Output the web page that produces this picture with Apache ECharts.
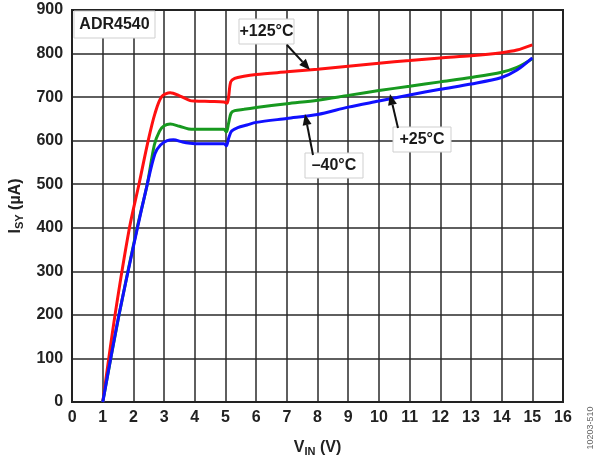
<!DOCTYPE html>
<html><head><meta charset="utf-8">
<script src="https://cdn.jsdelivr.net/npm/echarts@6/dist/echarts.min.js"></script>
<style>html,body{margin:0;padding:0;background:#fff}#c{width:600px;height:463px}</style>
</head><body><div id="c"></div>
<script>
const xTicks = [0,1,2,3,4,5,6,7,8,9,10,11,12,13,14,15,16];
const yTicks = [0,100,200,300,400,500,600,700,800,900];
const seriesNames = ['+125°C','+25°C','–40°C'];
const hot = [[1,0],[1.4,200],[1.87,400],[2.18,500],[2.48,600],[2.7,662],[2.92,701],[3.2,710],[3.5,703],[3.85,692],[4,691],[4.5,690],[4.95,689],[5.05,686],[5.1,700],[5.17,735],[5.3,743],[5.6,748],[6,752],[7,758],[8,764],[9,771],[10,778],[11,784],[12,790],[13,795],[14,802],[14.5,808],[15,820]];
const room = [[1,0],[1.53,200],[2.12,400],[2.45,500],[2.68,590],[2.85,622],[3.0,634],[3.2,638],[3.5,633],[3.8,627],[4,626],[4.5,626],[4.95,626],[5.03,620],[5.1,640],[5.18,663],[5.3,669],[5.6,672],[6,676],[7,685],[8,693],[9,704],[10,715],[11,725],[12,735],[13,745],[14,757],[14.5,768],[15,788]];
const cold = [[1,0],[1.5,190],[2.1,390],[2.45,500],[2.7,570],[2.88,590],[3.1,600],[3.3,602],[3.6,597],[3.85,594],[4,593],[4.5,593],[4.95,593],[5.03,588],[5.1,605],[5.2,622],[5.4,630],[5.7,636],[6,642],[7,651],[8,660],[9,677],[10,691],[11,705],[12,718],[13,730],[14,745],[14.5,762],[15,790]];

const FONT = 'Liberation Sans, Arial, sans-serif';
const chart = echarts.init(document.getElementById('c'), null, {renderer:'canvas'});
function boxText(x, y, w, h, txt){
  return [
    {type:'rect', shape:{x:x,y:y,width:w,height:h}, style:{fill:'#fff', stroke:'#cfcfcf', lineWidth:1}, z:10},
    {type:'text', x:x+w/2, y:y+h/2, style:{text:txt, font:'bold 16px '+FONT, fill:'#1a1a1a', align:'center', verticalAlign:'middle'}, z:11}
  ];
}
function arrow(x1,y1,x2,y2){
  const ang = Math.atan2(y2-y1, x2-x1), L = 11, W = 4.5;
  const bx = x2 - L*Math.cos(ang), by = y2 - L*Math.sin(ang);
  const px = -Math.sin(ang), py = Math.cos(ang);
  return [
    {type:'line', shape:{x1:x1,y1:y1,x2:bx,y2:by}, style:{stroke:'#111', lineWidth:2}, z:10},
    {type:'polygon', shape:{points:[[x2,y2],[bx+px*W,by+py*W],[bx-px*W,by-py*W]]}, style:{fill:'#111'}, z:10}
  ];
}
const graphics = [].concat(
  boxText(74, 11, 81, 27, 'ADR4540'),
  boxText(239, 19, 55, 25, seriesNames[0]),
  arrow(287, 45, 310, 70),
  boxText(393, 127, 58, 25, seriesNames[1]),
  arrow(398, 128, 390, 94),
  boxText(305, 153, 58, 25, seriesNames[2]),
  arrow(313, 155, 305, 114),
  [{type:'text', x:591, y:428, rotation:Math.PI/2, style:{text:'10203-510', font:'9px '+FONT, fill:'#666', align:'center', verticalAlign:'middle'}}],
  [{type:'rect', shape:{x:72,y:10,width:491,height:392}, style:{fill:'none', stroke:'#222', lineWidth:2}, z:4}]
);
const mk = (name, data, color) => ({
  name:name, type:'line', data:data, smooth:0.3, symbol:'none',
  lineStyle:{color:color, width:3}, itemStyle:{color:color}, z:5
});
chart.setOption({
  animation:false,
  grid:{left:72, right:37, top:10, bottom:61},
  xAxis:{type:'value', min:xTicks[0], max:xTicks[xTicks.length-1], interval:1,
    axisLine:{show:true, lineStyle:{color:'#222', width:2}}, axisTick:{show:false},
    splitLine:{show:true, lineStyle:{color:'#2a2a2a', width:1.5}},
    axisLabel:{margin:8, fontFamily:FONT, fontWeight:'bold', fontSize:16, color:'#222'},
    name:'{m|V}{s|IN}{m| (V)}', nameLocation:'middle', nameGap:36,
    nameTextStyle:{rich:{m:{fontFamily:FONT, fontWeight:'bold', fontSize:16, color:'#222'}, s:{fontFamily:FONT, fontWeight:'bold', fontSize:11, color:'#222', padding:[8,0,0,0]}}}
  },
  yAxis:{type:'value', min:yTicks[0], max:yTicks[yTicks.length-1], interval:100,
    axisLine:{show:true, lineStyle:{color:'#222', width:2}}, axisTick:{show:false},
    splitLine:{show:true, lineStyle:{color:'#2a2a2a', width:1.5}},
    axisLabel:{margin:9, fontFamily:FONT, fontWeight:'bold', fontSize:16, color:'#222'},
    name:'{m|I}{s|SY}{m| (µA)}', nameLocation:'middle', nameGap:44, nameRotate:90,
    nameTextStyle:{rich:{m:{fontFamily:FONT, fontWeight:'bold', fontSize:16, color:'#222'}, s:{fontFamily:FONT, fontWeight:'bold', fontSize:11, color:'#222', padding:[8,0,0,0]}}}
  },
  series:[ mk(seriesNames[0], hot, '#ff1010'), mk(seriesNames[1], room, '#17991f'), mk(seriesNames[2], cold, '#1010ff') ],
  graphic:graphics
});
</script></body></html>
